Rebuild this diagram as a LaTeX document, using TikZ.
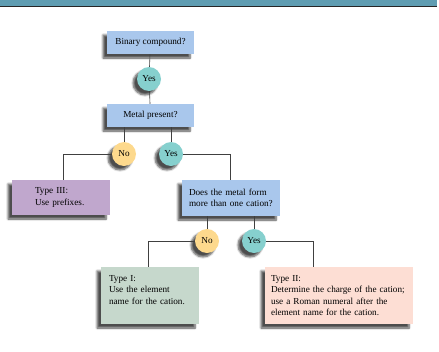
\documentclass[tikz,border=0pt]{standalone}
\usepackage{fontspec}
\setmainfont{Liberation Serif}
\usetikzlibrary{positioning,shadows.blur}
\definecolor{flowBar}{HTML}{5F9DB2}
\definecolor{flowBlue}{HTML}{A9C7EC}
\definecolor{flowPurple}{HTML}{C0A7CD}
\definecolor{flowGreen}{HTML}{C6D8CC}
\definecolor{flowPink}{HTML}{FDDED4}
\definecolor{flowYes}{HTML}{86D0CE}
\definecolor{flowNo}{HTML}{FDD98D}
\definecolor{flowShadow}{HTML}{6E6E62}

\begin{document}
\begin{tikzpicture}[
  x=1pt, y=-1pt,
  every node/.style={font=\fontsize{9.2}{11.6}\selectfont},
  boxshadow/.style={blur shadow={shadow xshift=-4pt, shadow yshift=-4pt,
    shadow blur radius=2pt, shadow opacity=70, shadow blur steps=6}},
  qbox/.style={rectangle, fill=#1, inner sep=0pt, boxshadow},
  answer/.style={circle, fill=#1, minimum size=24pt, inner sep=0pt, boxshadow},
  link/.style={draw=black!75, line width=0.6pt},
]
\useasboundingbox (0,0) rectangle (439,351);

% ======= Banner =======
\fill[flowBar] (0,0) rectangle (437,6);
\draw[black!85, line width=1pt] (0,6.5) -- (437,6.5);

% ======= Questions =======
\node[qbox=flowBlue, minimum width=87pt, minimum height=23pt] (binary)
  at (150.5,42.5) {Binary compound?};
\node[answer=flowYes] (yesA) at (149,79) {Yes};
\node[qbox=flowBlue, minimum width=87pt, minimum height=23pt] (metal)
  at (150.5,115.5) {Metal present?};

\node[answer=flowNo] (noB) at (124,154) {No};
\node[answer=flowYes] (yesB) at (171,154) {Yes};

\node[qbox=flowBlue, minimum width=98pt, minimum height=36pt,
  text width=84pt, align=left] (cation) at (231,198)
  {Does the metal form\\more than one cation?};

\node[answer=flowNo] (noC) at (207,241) {No};
\node[answer=flowYes] (yesC) at (254,241) {Yes};

% ======= Results =======
\node[qbox=flowPurple, minimum width=98pt, minimum height=35pt,
  text width=52pt, align=left, inner xsep=23pt] (typeIII) at (61,197.5)
  {Type III:\\Use prefixes.};
\node[qbox=flowGreen, minimum width=98pt, minimum height=57pt,
  text width=82pt, align=left, inner xsep=8pt] (typeI) at (150,295.5)
  {Type I:\\Use the element\\name for the cation.\\\mbox{}};
\node[qbox=flowPink, minimum width=148pt, minimum height=57pt,
  text width=136pt, align=left, inner xsep=6pt] (typeII) at (339,295.5)
  {Type II:\\Determine the charge of the cation;\\use a Roman numeral after the\\element name for the cation.};
\coordinate (typeIIin) at (313,267);

% ======= Connectors =======
\draw[link] (binary) -- (yesA);
\draw[link] (yesA) -- (metal);
\draw[link] (metal.south -| noB) -- (noB);
\draw[link] (metal.south -| yesB) -- (yesB);
\draw[link] (noB.west) -| ([xshift=2pt]typeIII.north);
\draw[link] (yesB.east) -| ([xshift=-1pt]cation.north);
\draw[link] (cation.south -| noC) -- (noC);
\draw[link] (cation.south -| yesC) -- (yesC);
\draw[link] (noC.west) -| ([xshift=-2pt]typeI.north);
\draw[link] (yesC.east) -| (typeIIin);

\end{tikzpicture}
\end{document}
